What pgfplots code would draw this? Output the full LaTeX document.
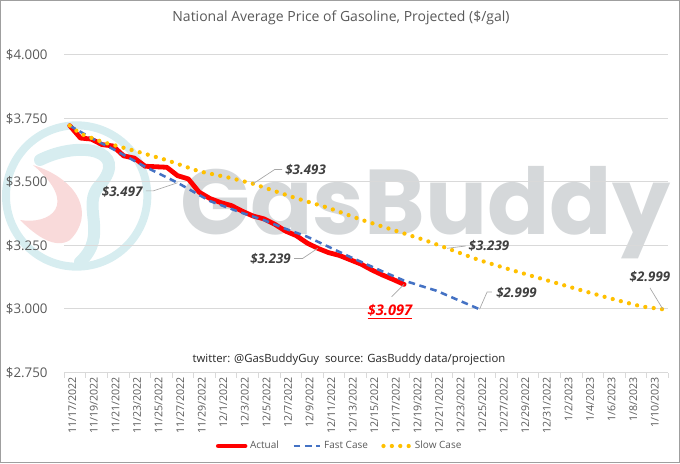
\documentclass[border=0pt]{standalone}
\usepackage{fontspec}
\setmainfont{Open Sans}
\newfontfamily\wmfont{Poppins}
\usepackage{graphicx}
\usepackage{pgfplots}
\pgfplotsset{compat=1.18}
\definecolor{txtgray}{HTML}{595959}
\definecolor{gridgray}{HTML}{D9D9D9}
\definecolor{actred}{HTML}{FF0000}
\definecolor{fastblue}{HTML}{4472C4}
\definecolor{slowgold}{HTML}{FFC000}
\definecolor{wmgray}{HTML}{D5D8DA}
\definecolor{wmteal}{HTML}{D7EDF0}
\definecolor{wmpink}{HTML}{F9DADA}
\definecolor{lblgray}{HTML}{404040}
\definecolor{leadgray}{HTML}{A6A6A6}

\pgfplotstableread{
d v
0 3.722
1 3.673
2 3.669
3 3.647
4 3.642
5 3.603
6 3.594
7 3.562
8 3.560
9 3.558
10 3.525
11 3.512
12 3.460
13 3.435
14 3.419
15 3.407
16 3.385
17 3.366
18 3.355
19 3.334
20 3.307
21 3.289
22 3.260
23 3.239
24 3.222
25 3.211
26 3.194
27 3.177
28 3.154
29 3.134
30 3.116
31 3.097
}\actual

\pgfplotstableread{
d v
0 3.722
2 3.673
4 3.630
7 3.560
10 3.497
13 3.425
16 3.378
18 3.350
20 3.316
22 3.285
24 3.245
26 3.205
29 3.148
31 3.112
33 3.085
34 3.072
38 2.999
}\fast

\pgfplotstableread{
d v
0 3.722
1 3.690
3 3.658
6 3.623
9 3.586
12 3.542
15 3.515
17 3.493
21 3.436
24 3.398
27 3.352
30 3.311
33 3.270
35 3.239
38 3.192
41 3.153
44 3.116
47 3.079
50 3.043
53 3.010
55 2.999
}\slow

\begin{document}
\begin{tikzpicture}
\path[use as bounding box] (0,0) rectangle (510pt,347.25pt);
% watermark logo
\draw[wmteal, line width=6pt] (57.5pt,200.25pt) circle (53pt);
\fill[wmpink] (24.75pt,223.5pt) .. controls (60pt,212.25pt) and (71.25pt,186pt) .. (52.5pt,167.25pt) .. controls (41.25pt,159.75pt) and (26.25pt,171pt) .. (15pt,182.25pt) .. controls (37.5pt,178.5pt) and (60pt,193.5pt) .. cycle;
\draw[wmteal, line width=9pt, line cap=round] (30pt,227.25pt) .. controls (60pt,242.25pt) and (97.5pt,234.75pt) .. (75pt,208.5pt) .. controls (60pt,193.5pt) and (82.5pt,171pt) .. (60pt,150.75pt);
\node[anchor=base west, inner sep=0pt, text=wmgray] at (135pt,171pt) {\resizebox{367.5pt}{!}{\wmfont\bfseries GasBuddy}};

\begin{axis}[
 at={(48.225pt,67.875pt)}, anchor=south west,
 scale only axis, width=453pt, height=238.125pt,
 xmin=-0.5, xmax=55.5, ymin=2.75, ymax=4.0,
 axis x line=bottom, axis y line=left,
 axis line style={-, draw=gridgray, line width=0.75pt},
 y axis line style={draw=none},
 ytick={2.75,3,3.25,3.5,3.75,4},
 yticklabels={\$2.750,\$3.000,\$3.250,\$3.500,\$3.750,\$4.000},
 ymajorgrids, grid style={gridgray, line width=0.75pt},
 ytick style={draw=none},
 yticklabel style={font=\fontsize{10}{12}\selectfont, text=txtgray, xshift=-5pt},
 xtick={-0.5,1.5,...,55.5},
 xticklabels={},
 xtick style={draw=gridgray, line width=0.75pt},
 tick align=outside, major tick length=4pt,
 extra x ticks={0,2,...,54},
 extra x tick labels={11/17/2022,11/19/2022,11/21/2022,11/23/2022,11/25/2022,11/27/2022,11/29/2022,12/1/2022,12/3/2022,12/5/2022,12/7/2022,12/9/2022,12/11/2022,12/13/2022,12/15/2022,12/17/2022,12/19/2022,12/21/2022,12/23/2022,12/25/2022,12/27/2022,12/29/2022,12/31/2022,1/2/2023,1/4/2023,1/6/2023,1/8/2023,1/10/2023},
 extra x tick style={major tick length=0pt, xticklabel style={rotate=90, anchor=east, font=\fontsize{8}{9}\selectfont, text=txtgray, yshift=-2pt}},
 clip=false,
 legend style={at={(0.4565,-0.2315)}, anchor=center, legend columns=3, draw=none, fill=none,
   font=\fontsize{7.5}{9}\selectfont, text=txtgray,
   /tikz/every even column/.append style={column sep=8pt}},
 legend image code/.code={\draw[#1] (0pt,0pt) -- (20pt,0pt);},
]
\addplot[actred, line width=3.6pt, line join=round, line cap=round] table[x=d,y=v] {\actual};
\addlegendentry{Actual}
\addplot[fastblue, line width=1.9pt, dash pattern=on 5pt off 3.5pt] table[x=d,y=v] {\fast};
\addlegendentry{Fast Case}
\addplot[slowgold, line width=3.2pt, line cap=round, dash pattern=on 0pt off 6.3pt] table[x=d,y=v] {\slow};
\addlegendentry{Slow Case}

\tikzset{lbl/.style={font=\fontsize{10}{12}\selectfont\bfseries\itshape, text=lblgray, inner sep=1pt},
 ld/.style={draw=leadgray, line width=0.5pt}}
\node[lbl, anchor=east] at (axis cs:6.9,3.462) {\$3.497};
\draw[ld] (axis cs:7.07,3.465) -- (axis cs:7.75,3.465) -- (axis cs:10,3.497);
\node[lbl, anchor=west] at (axis cs:19.85,3.547) {\$3.493};
\draw[ld] (axis cs:19.7,3.549) -- (axis cs:19.0,3.549) -- (axis cs:17,3.493);
\node[lbl, anchor=east] at (axis cs:20.65,3.197) {\$3.239};
\draw[ld] (axis cs:20.8,3.199) -- (axis cs:21.6,3.199) -- (axis cs:23,3.239);
\node[lbl, anchor=west] at (axis cs:36.85,3.248) {\$3.239};
\draw[ld] (axis cs:36.7,3.248) -- (axis cs:35,3.239);
\node[lbl, anchor=west] at (axis cs:39.4,3.064) {\$2.999};
\draw[ld] (axis cs:39.15,3.067) -- (axis cs:38.7,3.067) -- (axis cs:38,2.999);
\node[lbl] at (axis cs:53.8,3.125) {\$2.999};
\draw[ld] (axis cs:53.8,3.083) -- (axis cs:55,2.999);
\node[lbl, font=\fontsize{11}{13}\selectfont\bfseries\itshape, text=actred] at (axis cs:29.7,2.989) {\underline{\$3.097}};
\draw[ld] (axis cs:29.85,3.048) -- (axis cs:31,3.097);
\end{axis}

\node[text=txtgray, font=\fontsize{10.5}{12}\selectfont] at (255.75pt,333.75pt) {National Average Price of Gasoline, Projected (\$/gal)};
\node[text=black!85, font=\fontsize{8.5}{10}\selectfont] at (261.75pt,77.25pt) {twitter: @GasBuddyGuy\ \ source: GasBuddy data/projection};
\draw[gray!75, line width=1pt] (0.5pt,0.5pt) rectangle (509.5pt,346.75pt);
\end{tikzpicture}
\end{document}
